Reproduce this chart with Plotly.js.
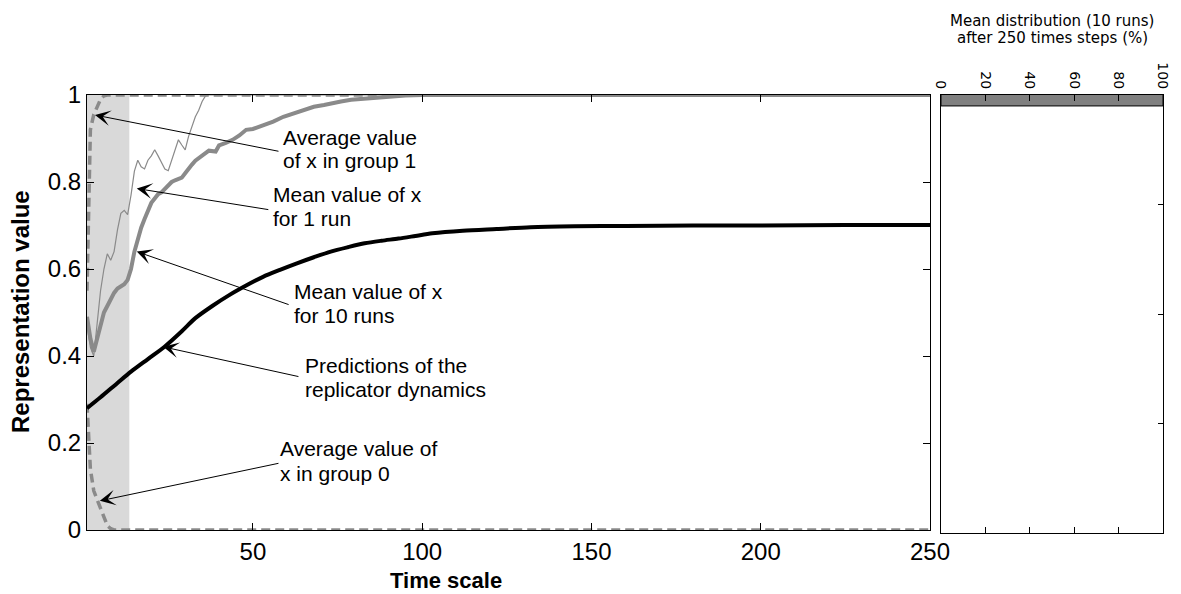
<!DOCTYPE html>
<html>
<head>
<meta charset="utf-8">
<script src="https://cdn.plot.ly/plotly-3.0.1.min.js"></script>
<style>html,body{margin:0;padding:0;background:#fff;}#chart{width:1181px;height:594px;}</style>
</head>
<body>
<div id="chart"></div>
<script>
// ---- data ----
const timeOneRun = [1,2,3,4,5,6,7,8,9,10,11,12,13,14,15,16,17,18,19,20,21,22,23,24,25,26,27,28,29,30,31,32,33,34,35,36,37,250];
const meanOneRun = [0.47,0.42,0.40,0.47,0.55,0.60,0.635,0.62,0.64,0.69,0.728,0.735,0.725,0.77,0.825,0.85,0.835,0.83,0.85,0.86,0.874,0.86,0.845,0.83,0.826,0.851,0.875,0.897,0.885,0.874,0.905,0.93,0.95,0.965,0.985,0.998,1.0,1.0];

const timeTenRuns = [1,2,3,4,5,6,7,8,9,10,11,12,13,14,15,16,17,18,19,20,21,22,23,24,25,26,27,28,29,30,31,32,33,34,35,37,39,40,42,44,46,48,50,53,56,59,61,63,66,68,71,73,76,79,82,85,88,91,95,100,250];
const meanTenRuns = [0.49,0.44,0.41,0.44,0.475,0.50,0.515,0.53,0.545,0.555,0.56,0.565,0.575,0.60,0.64,0.67,0.695,0.715,0.735,0.752,0.762,0.772,0.776,0.785,0.792,0.80,0.804,0.806,0.81,0.82,0.832,0.84,0.849,0.855,0.861,0.872,0.87,0.884,0.89,0.897,0.907,0.92,0.922,0.93,0.939,0.95,0.955,0.962,0.968,0.973,0.977,0.981,0.985,0.989,0.991,0.994,0.996,0.998,0.999,1.0,1.0];

const timeGroup1 = [1,2,3,4,5,6,7,250];
const avgGroup1 = [0.55,0.92,0.955,0.975,0.99,0.998,1.0,1.0];

const timeGroup0 = [1,2,3,4,5,6,7,8,9,250];
const avgGroup0 = [0.29,0.14,0.09,0.07,0.05,0.025,0.01,0.003,0.0,0.0];

const timeReplicator = [1,5,10,14,19,24,29,33,38,43,48,53,58,63,68,73,78,83,88,93,98,103,112,122,132,145,160,180,200,225,250];
const predReplicator = [0.28,0.305,0.338,0.364,0.393,0.422,0.457,0.487,0.515,0.540,0.562,0.582,0.598,0.613,0.627,0.640,0.650,0.659,0.665,0.670,0.676,0.682,0.688,0.692,0.696,0.698,0.699,0.700,0.700,0.701,0.701];

const shadeEnd = 13.5;

const distBins = [1];
const distPct = [100];

const xTicks = [50,100,150,200,250];
const yTicks = [0,0.2,0.4,0.6,0.8,1];
const distTicks = [0,20,40,60,80,100];
const distYTicks = [0.25,0.5,0.75];

// ---- traces ----
const gray = '#8a8a8a';
const traces = [
  {x: timeOneRun, y: meanOneRun, type:'scatter', mode:'lines', line:{color:gray, width:1.2}, xaxis:'x', yaxis:'y'},
  {x: timeTenRuns, y: meanTenRuns, type:'scatter', mode:'lines', line:{color:gray, width:4}, xaxis:'x', yaxis:'y'},
  {x: timeGroup1, y: avgGroup1, type:'scatter', mode:'lines', line:{color:gray, width:3.5, dash:'9px,5px'}, xaxis:'x', yaxis:'y'},
  {x: timeGroup0, y: avgGroup0, type:'scatter', mode:'lines', line:{color:gray, width:3.5, dash:'9px,5px'}, xaxis:'x', yaxis:'y'},
  {x: timeReplicator, y: predReplicator, type:'scatter', mode:'lines', line:{color:'#000', width:4, shape:'spline', smoothing:0.8}, xaxis:'x', yaxis:'y'},
  {x: distPct, y: distBins, type:'bar', orientation:'h', width:0.05, xaxis:'x2', yaxis:'y2',
   marker:{color:'#808080', line:{color:'#000', width:1}}}
];

const font = 'Liberation Sans, Arial, sans-serif';
const annFont = {family: font, size: 21, color:'#000'};

function txt(x, y, t) {
  return {x:x, y:y, xref:'x', yref:'y', text:t, showarrow:false, xanchor:'left', yanchor:'middle', font:annFont};
}
function arr(x, y, ax, ay) {
  return {x:x, y:y, ax:ax, ay:ay, xref:'x', yref:'y', axref:'x', ayref:'y', text:'', showarrow:true,
          arrowhead:3, arrowsize:2.6, arrowwidth:1, arrowcolor:'#000', standoff:0, startstandoff:0};
}

const annotations = [
  txt(58.4, 0.903, 'Average value'),
  txt(58.3, 0.849, 'of x in group 1'),
  arr(3.36, 0.954, 58.0, 0.870),
  txt(55.3, 0.771, 'Mean value of x'),
  txt(55.3, 0.716, 'for 1 run'),
  arr(15.7, 0.785, 55.0, 0.736),
  txt(61.5, 0.548, 'Mean value of x'),
  txt(61.5, 0.493, 'for 10 runs'),
  arr(15.7, 0.640, 61.0, 0.517),
  txt(64.7, 0.379, 'Predictions of the'),
  txt(64.7, 0.324, 'replicator dynamics'),
  arr(23.5, 0.421, 63.9, 0.352),
  txt(57.5, 0.1885, 'Average value of'),
  txt(57.5, 0.129, 'x in group 0'),
  arr(4.8, 0.067, 58.0, 0.154),
  {x:-0.0613, y:0.5046, xref:'paper', yref:'paper', text:'<b>Representation value</b>', textangle:-90,
   showarrow:false, xanchor:'center', yanchor:'middle', font:{family:font, size:24, color:'#000'}},
  {x:(446-87)/1076, y:(533-580)/438, xref:'paper', yref:'paper', text:'<b>Time scale</b>',
   showarrow:false, xanchor:'center', yanchor:'middle', font:{family:font, size:22, color:'#000'}},
  {x:0.8969, y:(533-20.5)/438, xref:'paper', yref:'paper', text:'Mean distribution (10 runs)',
   showarrow:false, xanchor:'center', yanchor:'middle', font:{family:'DejaVu Sans, sans-serif', size:15, color:'#000'}},
  {x:0.8969, y:(533-38.5)/438, xref:'paper', yref:'paper', text:'after 250 times steps (%)',
   showarrow:false, xanchor:'center', yanchor:'middle', font:{family:'DejaVu Sans, sans-serif', size:15, color:'#000'}}
];

const axisCommon = {showline:true, linecolor:'#000', linewidth:1, showgrid:false, zeroline:false,
                    ticks:'inside', tickcolor:'#000', tickwidth:1, fixedrange:true};

const layout = {
  width:1181, height:594,
  margin:{l:87, r:18, t:95, b:61, pad:0},
  paper_bgcolor:'#fff', plot_bgcolor:'#fff',
  showlegend:false,
  font:{family:font, color:'#000'},
  xaxis: Object.assign({}, axisCommon, {domain:[0, 843/1076], range:[1,250], tickvals:xTicks,
          ticklen:7, mirror:'ticks', anchor:'y', tickfont:{size:24}}),
  yaxis: Object.assign({}, axisCommon, {domain:[3/438, 1], range:[0,1], tickvals:yTicks,
          ticklen:7, mirror:'ticks', anchor:'x', tickfont:{size:24}}),
  xaxis2: Object.assign({}, axisCommon, {domain:[854/1076, 1], range:[0,100], tickvals:distTicks,
          side:'top', anchor:'y2', tickangle:90, ticklen:6, mirror:'ticks',
          tickfont:{family:'DejaVu Sans, sans-serif', size:14}}),
  yaxis2: Object.assign({}, axisCommon, {domain:[0,1], range:[0,1], tickvals:distYTicks,
          side:'right', anchor:'x2', showticklabels:false, ticklen:5, mirror:true}),
  shapes:[{type:'rect', xref:'x', yref:'y', x0:1, x1:shadeEnd, y0:0, y1:1,
           fillcolor:'#d9d9d9', line:{width:0}, layer:'below'}],
  annotations: annotations
};

Plotly.newPlot('chart', traces, layout, {displayModeBar:false, staticPlot:true});
</script>
</body>
</html>
